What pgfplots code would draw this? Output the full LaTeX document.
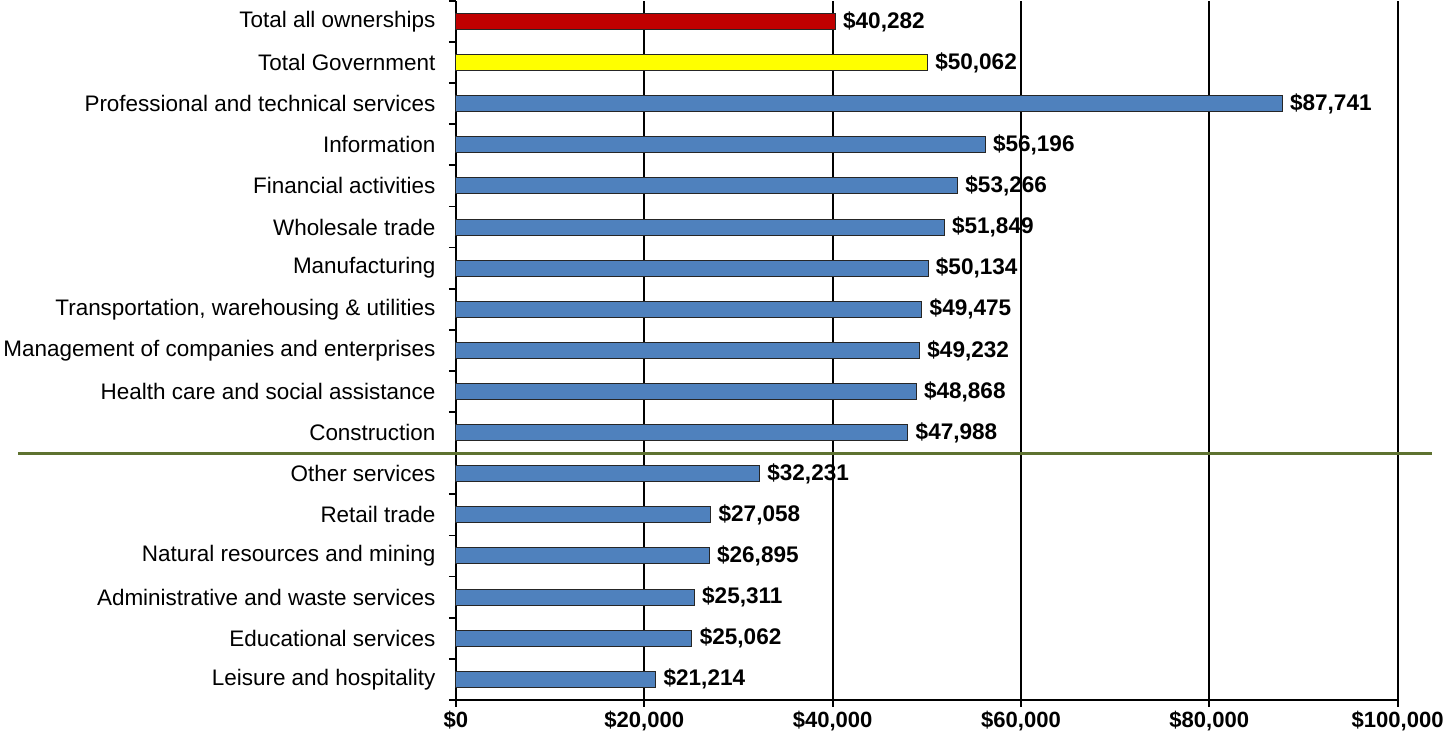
\documentclass[border=0pt]{standalone}
\usepackage{pgfplots}
\pgfplotsset{compat=1.18}
\usepackage{fontspec}
\setmainfont{Liberation Sans}
\definecolor{barblue}{RGB}{79,129,189}
\definecolor{barred}{RGB}{192,0,0}
\definecolor{baryellow}{RGB}{255,255,0}
\definecolor{olive}{RGB}{94,114,48}
\begin{document}
\begin{tikzpicture}
\begin{axis}[
  scale only axis,
  width=939pt, height=697pt,
  xbar, bar width=16pt, bar shift=0pt,
  xmin=0, xmax=100000,
  ymin=-0.5, ymax=16.5,
  clip=false,
  scaled x ticks=false,
  axis x line*=bottom, axis y line*=left,
  axis line style={line width=1.8pt, black},
  xmajorgrids, grid style={line width=1.8pt, black},
  xtick={0,20000,40000,60000,80000,100000},
  xticklabels={\textbf{\$0},\textbf{\$20,000},\textbf{\$40,000},\textbf{\$60,000},\textbf{\$80,000},\textbf{\$100,000}},
  ytick={0,...,16},
  yticklabels={Leisure and hospitality, Educational services, Administrative and waste services, Natural resources and mining, Retail trade, Other services, Construction, Health care and social assistance, Management of companies and enterprises, {Transportation, warehousing \& utilities}, Manufacturing, Wholesale trade, Financial activities, Information, Professional and technical services, Total Government, Total all ownerships},
  minor ytick={-0.5,0.5,...,16.5},
  tick align=outside,
  major tick length=7pt, minor tick length=7pt,
  major y tick style={draw=none},
  minor y tick style={line width=1.8pt, black},
  major x tick style={line width=1.8pt, black},
  yticklabel style={font=\fontsize{22.4}{26}\selectfont, xshift=-10pt},
  xticklabel style={font=\fontsize{22}{26}\selectfont, yshift=-1pt},
  point meta=x,
  nodes near coords={\textbf{\$\pgfmathprintnumber[fixed,precision=0,1000 sep={,},assume math mode=true]{\pgfplotspointmeta}}},
  every node near coord/.append style={font=\fontsize{22.5}{26}\selectfont, black, xshift=4pt},
]
\addplot[fill=barblue, draw=black!85, line width=1pt] coordinates {
(21214,0) (25062,1) (25311,2) (26895,3) (27058,4) (32231,5) (47988,6) (48868,7) (49232,8) (49475,9) (50134,10) (51849,11) (53266,12) (56196,13) (87741,14)};
\addplot[fill=baryellow, draw=black!85, line width=1pt] coordinates {(50062,15)};
\addplot[fill=barred, draw=black!85, line width=1pt] coordinates {(40282,16)};
\draw[olive, line width=3pt] (axis cs:-46500,5.5) -- (axis cs:103600,5.5);
\end{axis}
\end{tikzpicture}
\end{document}
